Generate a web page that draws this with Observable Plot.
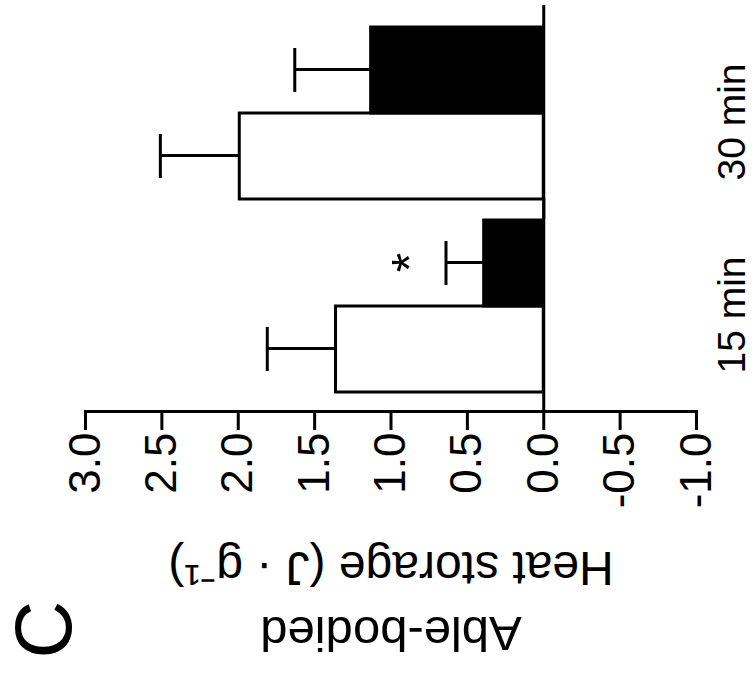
<!DOCTYPE html>
<html>
<head>
<meta charset="utf-8">
<script src="https://cdn.jsdelivr.net/npm/d3@7"></script>
<script src="https://cdn.jsdelivr.net/npm/@observablehq/plot@0.6"></script>
<style>
  html, body { margin: 0; padding: 0; background: #fff; }
  #figure { position: relative; width: 755px; height: 685px; overflow: hidden; background: #fff; }
  /* The panel is laid out upright, then turned a quarter turn counter-clockwise. */
  #panel { position: absolute; left: 0; top: 0; width: 685px; height: 755px;
           transform-origin: 0 0; transform: translate(0, 685px) rotate(-90deg); }
  #panel svg { display: block; }
</style>
</head>
<body>
<div id="figure"><div id="panel"></div></div>
<script>
// Heat storage (J · g⁻¹), able-bodied group, mean and SD per time point
const times = ["15 min", "30 min"];
const conditions = ["A", "B"];
const meanA = [1.36, 1.99];
const sdA = [0.45, 0.52];
const meanB = [0.39, 1.13];
const sdB = [0.25, 0.50];
const significance = ["*", ""];          // marks on condition B
const valueTicks = [3.0, 2.5, 2.0, 1.5, 1.0, 0.5, 0.0, -0.5, -1.0];
const yLabel = "Heat storage (J · g⁻¹)";
const groupLabel = "Able-bodied";
const panelLetter = "C";

const rows = times.flatMap((t, i) => [
  {time: t, condition: conditions[0], mean: meanA[i], sd: sdA[i]},
  {time: t, condition: conditions[1], mean: meanB[i], sd: sdB[i]}
]);
const stars = times
  .map((t, i) => ({time: t, condition: conditions[1], top: meanB[i] + sdB[i], label: significance[i]}))
  .filter(d => d.label);

const font = "'Liberation Sans', Arial, Helvetica, sans-serif";

const chart = Plot.plot({
  width: 685,
  height: 755,
  marginLeft: 273,
  marginRight: 5,
  marginTop: 85,
  marginBottom: 59,
  style: {fontFamily: font, color: "#000", background: "#fff", overflow: "visible"},
  // time groups tile the frame from the value axis; spare room goes to the far end
  fx: {domain: times, paddingInner: 0, paddingOuter: 0.0544, align: 0, label: null},
  // the two bars of a group sit side by side, nearer the group's start
  x: {domain: conditions, paddingInner: 0, paddingOuter: 0.122, align: 0.952, axis: null},
  y: {domain: [-1, 3], label: null},
  color: {domain: conditions, range: ["#fff", "#000"]},
  marks: [
    Plot.ruleY([0], {stroke: "#000", strokeWidth: 3, insetRight: -21}),
    Plot.barY(rows, {fx: "time", x: "condition", y: "mean", fill: "condition", stroke: "#000", strokeWidth: 3}),
    Plot.ruleX(rows, {fx: "time", x: "condition", y1: "mean", y2: d => d.mean + d.sd, stroke: "#000", strokeWidth: 3}),
    Plot.tickY(rows, {fx: "time", x: "condition", y: d => d.mean + d.sd, inset: 21, stroke: "#000", strokeWidth: 3}),
    Plot.text(stars, {fx: "time", x: "condition", y: "top", text: "label", lineAnchor: "bottom", dy: -19, fontSize: 50, fill: "#000"}),
    Plot.frame({anchor: "left", facetAnchor: "left", stroke: "#000", strokeWidth: 3}),
    Plot.axisY({
      ticks: valueTicks, tickFormat: d => d.toFixed(1),
      tickSize: 18, tickPadding: 3, strokeWidth: 3, stroke: "#000",
      fontSize: 44, fill: "#000", label: null
    }),
    Plot.axisFx({anchor: "bottom", tickSize: 0, tickPadding: 21, fontSize: 39, fill: "#000", label: null}),
    Plot.text([yLabel], {facet: "super", frameAnchor: "left", textAnchor: "middle", rotate: -90, dx: -140, lineAnchor: "bottom", fontSize: 48, fill: "#000"}),
    Plot.text([groupLabel], {facet: "super", frameAnchor: "left", textAnchor: "middle", rotate: -90, dx: -205, lineAnchor: "bottom", fontSize: 49, fill: "#000"}),
    Plot.text([panelLetter], {facet: "super", frameAnchor: "top-left", textAnchor: "middle", lineAnchor: "middle", dx: -218, dy: -40, fontSize: 80, fill: "#000"})
  ]
});

document.getElementById("panel").appendChild(chart);
</script>
</body>
</html>
